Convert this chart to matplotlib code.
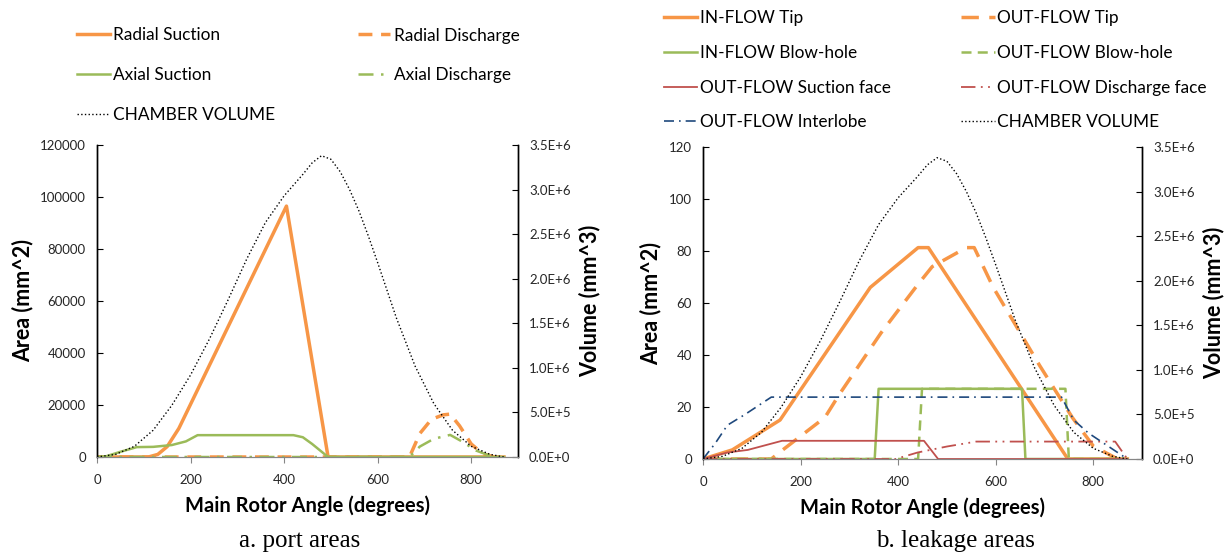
import numpy as np
import matplotlib
matplotlib.use('Agg')
import matplotlib.pyplot as plt
from matplotlib.ticker import FuncFormatter

plt.rcParams['font.family'] = ['Lato', 'DejaVu Sans']

# chamber volume (mm^3) vs main rotor angle (deg), shared by both panels
vol_deg = [0, 40, 80, 120, 160, 200, 240, 280, 320, 360, 400, 440, 460, 480,
           500, 520, 540, 560, 580, 600, 640, 680, 720, 760, 800, 840, 870]
vol_val = [0, 0.03e6, 0.12e6, 0.30e6, 0.58e6, 0.92e6, 1.32e6, 1.76e6,
           2.22e6, 2.63e6, 2.93e6, 3.17e6, 3.30e6, 3.38e6, 3.34e6, 3.20e6,
           3.00e6, 2.76e6, 2.48e6, 2.18e6, 1.56e6, 1.02e6, 0.60e6, 0.30e6,
           0.12e6, 0.03e6, 0]

# a. port areas (mm^2)
rs_deg = [0, 110, 130, 150, 175, 210, 405, 494, 870]
rs_val = [0, 0, 1000, 4000, 11000, 24000, 96500, 0, 0]
rd_deg = [0, 668, 690, 715, 740, 755, 775, 800, 825, 850, 870]
rd_val = [0, 0, 9000, 14500, 16200, 16500, 12000, 5000, 1200, 0, 0]
as_deg = [0, 20, 50, 85, 120, 160, 190, 215, 420, 440, 460, 494, 870]
as_val = [0, 300, 2000, 3800, 3900, 4600, 6000, 8400, 8400, 7600, 5000, 0, 0]
ad_deg = [0, 668, 690, 720, 755, 780, 810, 840, 860, 870]
ad_val = [0, 0, 4000, 7000, 8500, 6000, 2500, 500, 0, 0]

# b. leakage areas (mm^2)
it_deg = [0, 60, 158, 343, 441, 462, 748, 870]
it_val = [0, 3.5, 15, 66, 81.3, 81.3, 0, 0]
ot_deg = [0, 140, 160, 250, 280, 365, 440, 470, 540, 556, 595, 690, 757, 800, 850, 870]
ot_val = [0, 0, 3, 16, 25, 48.5, 67, 74, 81.3, 81.3, 66, 36, 16, 5, 0, 0]
ib_deg = [0, 352, 360, 654, 661, 870]
ib_val = [0, 0, 27, 27, 0, 0]
ob_deg = [0, 441, 449, 743, 750, 870]
ob_val = [0, 0, 27, 27, 0, 0]
sf_deg = [0, 50, 92, 162, 453, 482, 870]
sf_val = [0, 2.5, 3.5, 7, 7, 0, 0]
df_deg = [0, 395, 440, 500, 560, 845, 870]
df_val = [0, 0, 2.5, 4.8, 6.7, 6.7, 0]
il_deg = [0, 25, 50, 85, 140, 735, 760, 790, 830, 870]
il_val = [0, 6, 13, 17, 23.8, 23.8, 15, 10, 5, 0]

orange = '#F79646'
green = '#9BBB59'
red = '#C0504D'
blue = '#1F497D'
tick_col = '#262626'

W, H = 1227, 552
fig = plt.figure(figsize=(W/100, H/100), dpi=100)


def vol_fmt(v, pos):
    if v == 0:
        return '0.0E+0'
    e = int(np.floor(np.log10(abs(v)) + 1e-9))
    return '%.1fE+%d' % (v / 10**e, e)


def style_axes(ax, ax2, ymax, ystep):
    ax.set_xlim(0, 900)
    ax.set_ylim(0, ymax)
    ax.set_xticks([0, 200, 400, 600, 800])
    ax.set_yticks(np.arange(0, ymax + 1, ystep))
    ax2.set_ylim(0, 3.5e6)
    ax2.set_yticks(np.arange(0, 3.5e6 + 1, 0.5e6))
    ax2.yaxis.set_major_formatter(FuncFormatter(vol_fmt))
    for a in (ax, ax2):
        a.spines['top'].set_visible(False)
        a.spines['bottom'].set_color('#868686')
        a.spines['left'].set_color('black')
        a.spines['right'].set_color('black')
        a.spines['left'].set_linewidth(1.0)
        a.spines['right'].set_linewidth(1.0)
    ax.tick_params(axis='x', direction='out', length=4, color='#868686',
                   labelsize=9.5, labelcolor=tick_col, pad=8)
    ax.tick_params(axis='y', direction='in', length=4, color='black',
                   labelsize=9.5, labelcolor=tick_col, pad=8)
    ax2.tick_params(axis='y', direction='in', length=4, color='black',
                    labelsize=9.5, labelcolor=tick_col, pad=8)
    ax.set_xlabel('Main Rotor Angle (degrees)', fontsize=14.5,
                  fontweight='bold', labelpad=7)
    ax.set_ylabel('Area (mm^2)', fontsize=15.5, fontweight='bold', labelpad=5)
    ax2.set_ylabel('Volume (mm^3)', fontsize=15.5, fontweight='bold',
                   rotation=90, labelpad=6)


# ---- a. port areas
ax1 = fig.add_axes([97/W, 1 - 457/H, 421/W, 312/H])
ax1b = ax1.twinx()
l_rs, = ax1.plot(rs_deg, rs_val, '-', color=orange, lw=2.5, label='Radial Suction')
l_rd, = ax1.plot(rd_deg, rd_val, '--', color=orange, lw=2.5, dashes=(4, 2.5),
                 label='Radial Discharge')
l_as, = ax1.plot(as_deg, as_val, '-', color=green, lw=1.8, label='Axial Suction')
l_ad, = ax1.plot(ad_deg, ad_val, color=green, lw=1.8, dashes=(6, 3, 1, 3),
                 label='Axial Discharge')
l_cv, = ax1b.plot(vol_deg, vol_val, ':', color='black', lw=1.0,
                  label='CHAMBER VOLUME')
style_axes(ax1, ax1b, 120000, 20000)
fig.legend(handles=[l_rs, l_as, l_cv, l_rd, l_ad], ncol=2,
           loc='upper left', bbox_to_anchor=(62/W, 1 - 12/H),
           frameon=False, fontsize=12.4, handlelength=1.86, handletextpad=0.23,
           labelspacing=1.37, columnspacing=4.8)

# ---- b. leakage areas
ax2 = fig.add_axes([703/W, 1 - 459/H, 439/W, 312/H])
ax2b = ax2.twinx()
h_it, = ax2.plot(it_deg, it_val, '-', color=orange, lw=2.5, label='IN-FLOW Tip')
h_ot, = ax2.plot(ot_deg, ot_val, color=orange, lw=2.5, dashes=(5, 3),
                 label='OUT-FLOW Tip')
h_ib, = ax2.plot(ib_deg, ib_val, '-', color=green, lw=1.8, label='IN-FLOW Blow-hole')
h_ob, = ax2.plot(ob_deg, ob_val, color=green, lw=1.8, dashes=(4, 2.5),
                 label='OUT-FLOW Blow-hole')
h_sf, = ax2.plot(sf_deg, sf_val, '-', color=red, lw=1.3, label='OUT-FLOW Suction face')
h_df, = ax2.plot(df_deg, df_val, color=red, lw=1.3, dashes=(8, 3, 1, 3, 1, 3),
                 label='OUT-FLOW Discharge face')
h_il, = ax2.plot(il_deg, il_val, color=blue, lw=1.2, dashes=(6, 3, 1, 3),
                 label='OUT-FLOW Interlobe')
h_cv, = ax2b.plot(vol_deg, vol_val, ':', color='black', lw=1.0,
                  label='CHAMBER VOLUME')
style_axes(ax2, ax2b, 120, 20)
fig.legend(handles=[h_it, h_ib, h_sf, h_il, h_ot, h_ob, h_df, h_cv], ncol=2,
           loc='upper left', bbox_to_anchor=(648/W, 1 + 5/H),
           frameon=False, fontsize=12.4, handlelength=1.95, handletextpad=0.15,
           labelspacing=1.08, columnspacing=4.1)

# captions
fig.text(300/W, 1 - 541/H, 'a. port areas', ha='center', va='center',
         fontsize=18, family='Liberation Serif')
fig.text(955/W, 1 - 541/H, 'b. leakage areas', ha='center', va='center',
         fontsize=18, family='Liberation Serif')

fig.savefig('out.png', dpi=100)
